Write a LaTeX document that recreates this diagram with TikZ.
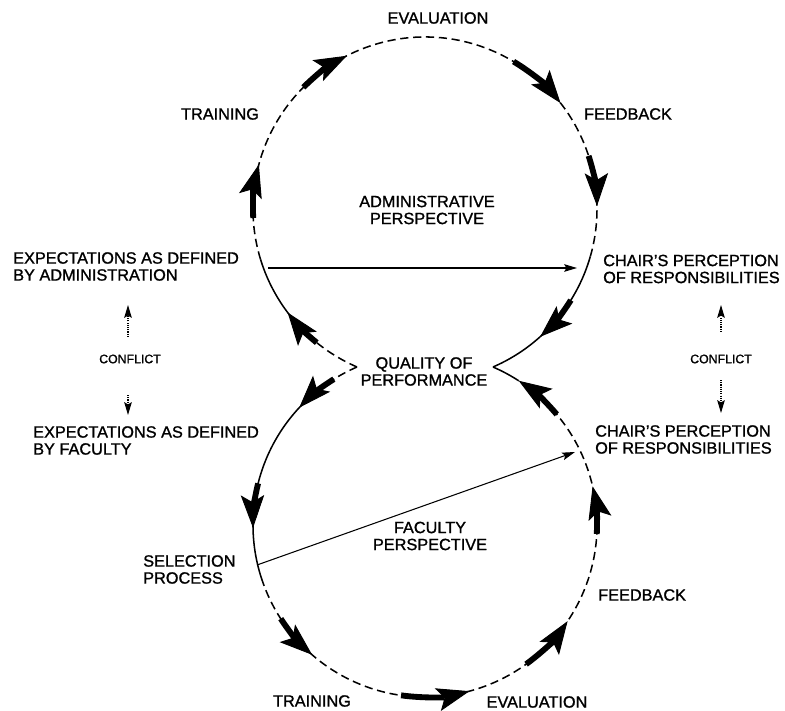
\documentclass[tikz,border=0pt]{standalone}
\usepackage{fontspec}
\setmainfont{Liberation Sans}[BoldFont={Liberation Sans},BoldFeatures={FakeBold=1.2}]
\usetikzlibrary{arrows.meta,calc}
\begin{document}
\begin{tikzpicture}[x=0.03cm,y=-0.03cm,
  txt/.style={inner sep=0pt, font=\fontsize{13.9}{14.5}\selectfont\bfseries, align=center},
  lefttxt/.style={txt, align=left, anchor=west},
  smalltxt/.style={inner sep=0pt, font=\fontsize{10.5}{12}\selectfont\bfseries},
  ring/.style={line width=1.3pt},
  ringdash/.style={ring, dash pattern=on 7pt off 4pt},
  cyclearrow/.style={line width=5pt, -{Stealth[length=28pt,width=20pt,inset=6pt,line width=0.8pt]}},
  linkarrow/.style={line width=0.9pt, -{Stealth[length=11pt,width=6.5pt,inset=2pt]}},
  conflictarrow/.style={line width=0.9pt, densely dotted, -{Stealth[length=11pt,width=6.5pt,inset=2pt]}}]

\useasboundingbox (0,0) rectangle (785,711);

% centres of the two loops
\coordinate (T) at (425,209);
\coordinate (B) at (425,525);
\def\R{172}
\newcommand\loopcurve[4]{\draw[#1] ($(#2)+(#3:\R)$) arc[start angle=#3, end angle=#4, radius=\R];}
\newcommand\looparrow[3]{\draw[cyclearrow] ($(#1)+(#2:\R)$) arc[start angle=#2, end angle=#3, radius=\R];}

% upper loop (administrative)
\loopcurve{ringdash}{T}{113.3}{131}
\loopcurve{ring}{T}{131}{163}
\loopcurve{ringdash}{T}{163}{376}
\loopcurve{ring}{T}{376}{426.7}
\looparrow{T}{177}{195}
\looparrow{T}{225}{243}
\looparrow{T}{301}{322}
\looparrow{T}{342}{359}
\looparrow{T}{392}{408}
\looparrow{T}{129}{143}

% lower loop (faculty)
\loopcurve{ringdash}{B}{246.7}{237.6}
\loopcurve{ring}{B}{237.6}{162}
\loopcurve{ringdash}{B}{162}{-57}
\loopcurve{ring}{B}{-57}{-66.7}
\looparrow{B}{238}{223}
\looparrow{B}{194}{179}
\looparrow{B}{147}{131}
\looparrow{B}{98}{75}
\looparrow{B}{54}{34}
\looparrow{B}{3}{-13}
\looparrow{B}{-40}{-57}

% labels
\node[txt] (evalTop) at (438,18) {EVALUATION};
\node[txt] (trainTop) at (220,114) {TRAINING};
\node[txt] (feedTop) at (628,114) {FEEDBACK};
\node[txt] (admin) at (427,210) {ADMINISTRATIVE\\PERSPECTIVE};
\node[lefttxt] (expA) at (13,266.5) {EXPECTATIONS AS DEFINED\\BY ADMINISTRATION};
\node[lefttxt] (chairA) at (603,269) {CHAIR'S PERCEPTION\\OF RESPONSIBILITIES};
\node[smalltxt] (conflictL) at (130,359) {CONFLICT};
\node[smalltxt] (conflictR) at (721,359) {CONFLICT};
\node[txt] (quality) at (424,371.5) {QUALITY OF\\PERFORMANCE};
\node[lefttxt] (expF) at (33,440.5) {EXPECTATIONS AS DEFINED\\BY FACULTY};
\node[lefttxt] (chairF) at (595,439.5) {CHAIR'S PERCEPTION\\OF RESPONSIBILITIES};
\node[txt] (faculty) at (430,536) {FACULTY\\PERSPECTIVE};
\node[lefttxt] (selection) at (143,569.5) {SELECTION\\PROCESS};
\node[lefttxt] (feedBot) at (598,595) {FEEDBACK};
\node[txt] (trainBot) at (312,701) {TRAINING};
\node[txt] (evalBot) at (537,702) {EVALUATION};

% straight connectors across the loops
\coordinate (hA) at (268,268);
\coordinate (hB) at (577,268);
\draw[linkarrow] (hA) -- (hB);
\coordinate (dA) at (257,565);
\coordinate (dB) at (575,452);
\draw[linkarrow] (dA) -- (dB);

% conflict markers
\coordinate (cLu0) at (128,337); \coordinate (cLu1) at (128,305);
\coordinate (cLd0) at (128,395); \coordinate (cLd1) at (128,415);
\coordinate (cRu0) at (721,332); \coordinate (cRu1) at (721,305);
\coordinate (cRd0) at (721,380); \coordinate (cRd1) at (721,413);
\draw[conflictarrow] (cLu0) -- (cLu1);
\draw[conflictarrow] (cLd0) -- (cLd1);
\draw[conflictarrow] (cRu0) -- (cRu1);
\draw[conflictarrow] (cRd0) -- (cRd1);
\end{tikzpicture}
\end{document}
